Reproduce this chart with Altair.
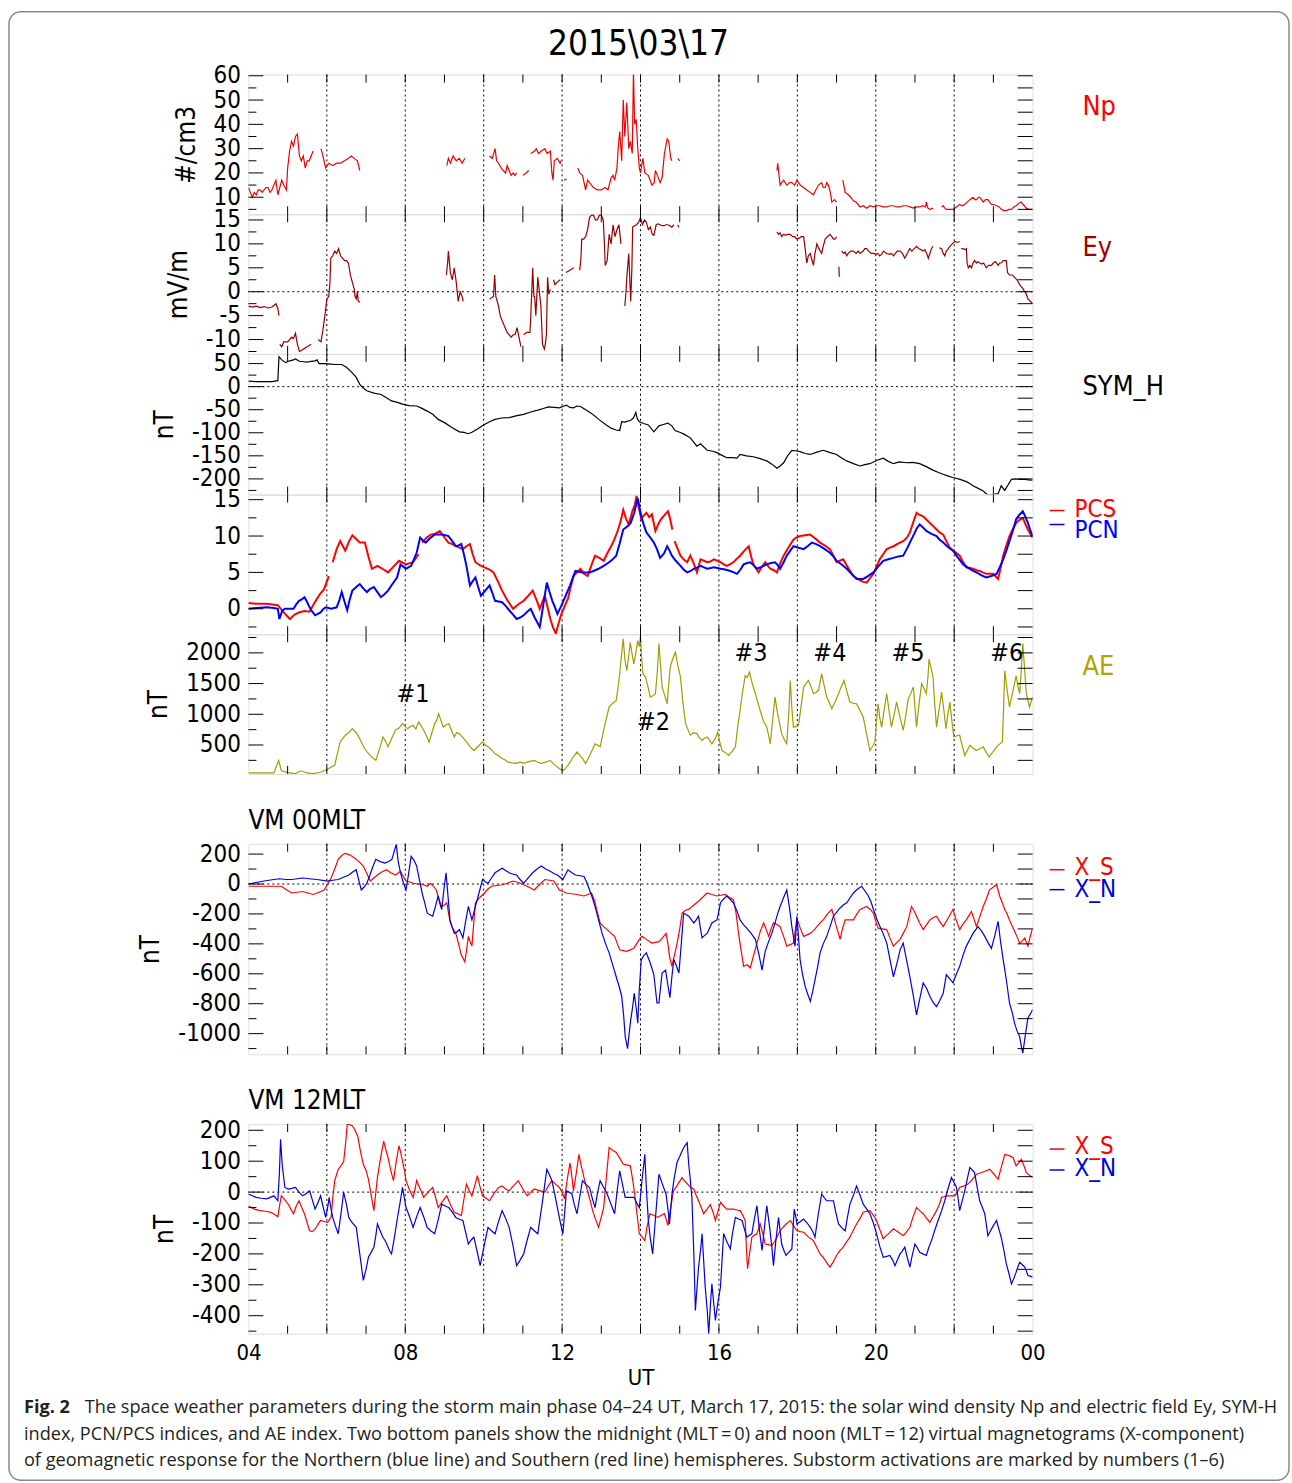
import altair as alt
import pandas as pd

FONT = "Liberation Sans Narrow, Arial Narrow, DejaVu Sans Condensed, sans-serif"
CAP_FONT = "Open Sans, Liberation Sans, sans-serif"
W = 786

# ---------------- data (hour UT, value); None marks a data gap ----------------
NP = [(4.0,14),(4.05,12),(4.1,10),(4.15,12),(4.2,11),(4.25,13),(4.3,13),(4.35,12),(4.4,13),(4.45,14),(4.5,14),(4.55,12),
      (4.6,13),(4.65,15),(4.7,17),(4.75,11),(4.8,14),(4.85,17),(4.9,15),(4.97,13),(5.0,22),(5.05,29),(5.1,33),(5.15,31),
      (5.2,35),(5.25,36),(5.3,27),(5.35,25),(5.4,27),(5.45,22),(5.5,25),(5.55,25),(5.6,27),(5.65,29),
      None,
      (5.85,30),(5.9,27),(5.97,22),(6.05,24),(6.15,23),(6.25,24),(6.35,24),(6.45,25),(6.55,26),(6.62,27),(6.7,26),(6.78,25),(6.84,21),
      None,
      (9.06,23),(9.1,26),(9.15,24),(9.22,27),(9.3,25),(9.38,26),(9.45,24),(9.52,26),
      None,
      (10.15,27),(10.22,26),(10.29,30),(10.33,25),(10.38,24),(10.45,22),(10.5,21),(10.56,20),(10.6,23),(10.65,21),(10.7,19),
      (10.75,20),(10.8,19),(10.84,20),
      None,
      (11.0,19),(11.08,20),(11.15,21),
      None,
      (11.2,28),(11.3,29),(11.34,30),(11.4,28),(11.47,29),(11.56,30),(11.62,28),(11.7,29),(11.74,20),(11.77,17),(11.8,25),
      (11.88,26),(11.95,24),(11.97,25),
      None,
      (12.05,17),(12.12,17.5),
      None,
      (12.4,22),(12.45,20),(12.52,19),(12.6,13),(12.65,17),(12.7,16),(12.8,14),(12.9,13),(13.0,13),(13.1,14),(13.17,13),
      (13.25,18),(13.3,19),(13.34,17),(13.4,22),(13.43,30),(13.47,37),(13.5,30),(13.52,25),(13.56,50),(13.6,35),(13.65,49),
      (13.68,38),(13.7,30),(13.74,33),(13.79,28),(13.82,62),(13.85,40),(13.89,42),(13.93,30),(13.97,22),(14.0,20),(14.06,26),
      (14.11,20),(14.2,19),(14.29,15),(14.35,16),(14.38,21),(14.43,19),(14.5,16),(14.55,18),(14.61,28),(14.68,34),(14.72,33),
      (14.77,26),(14.8,25),
      None,
      (14.95,26),(15.0,25),
      None,
      (17.48,21),(17.5,24),(17.56,15),(17.6,16),(17.65,17),(17.73,15),(17.8,16),(17.86,16),(17.93,15),(17.99,17),(18.07,15),
      (18.16,14),(18.24,13),(18.33,12),(18.41,11),(18.47,13),(18.54,15),(18.62,16),(18.66,14),(18.71,14),(18.75,16),(18.79,15),
      (18.84,12),(18.88,8),(18.95,9),(19.0,8),
      None,
      (19.16,17),(19.22,12),(19.3,11),(19.36,10),(19.43,8.5),(19.5,8),(19.6,6),(19.68,6.5),(19.77,5.5),(19.85,6.5),(19.94,6),
      (20.02,6.5),(20.1,6.5),(20.19,6),(20.28,6),(20.36,6.5),(20.45,6.5),(20.53,6),(20.62,6),(20.7,6.5),(20.79,6.5),(20.87,6),
      (20.96,5.5),(21.04,6),(21.12,6),(21.2,6.5),(21.27,6),(21.29,8),(21.33,5.5),(21.38,5),(21.46,5.5),
      None,
      (21.68,6),(21.72,6.5),(21.76,5.5),(21.8,5),(21.89,5),(21.97,5),(22.06,6),(22.14,7),(22.2,6.5),(22.27,7),(22.33,8),
      (22.4,9),(22.48,10),(22.53,9),(22.57,9),(22.62,10),(22.65,10),(22.7,9),(22.74,8),(22.8,9),(22.86,9),(22.9,8),(22.95,7),
      (23.0,7),(23.08,6.5),(23.15,6),(23.2,5),(23.27,4.5),(23.33,4.5),(23.4,5),(23.46,5),(23.52,6),(23.58,6.5),(23.65,7.5),
      (23.71,8),(23.76,7),(23.84,5.5),(23.9,5),(24.0,5)]

EY = [(4.0,-3),(4.1,-3.2),(4.2,-3),(4.3,-3.3),(4.4,-3.1),(4.5,-3.4),(4.6,-3.2),(4.7,-2.5),(4.75,-3.5),(4.78,-5),
      None,
      (4.8,-11),(4.85,-11.5),(4.9,-10.5),(5.0,-10.5),(5.05,-10),(5.1,-9.5),(5.15,-9.8),(5.2,-8.7),(5.25,-11),(5.3,-12.5),
      (5.35,-12.3),(5.4,-12),(5.5,-11.5),(5.6,-11),
      None,
      (5.78,-10),(5.85,-10.5),(5.9,-8),(5.95,-5),(6.0,-1.5),(6.05,-1),(6.08,2),(6.1,7),(6.15,7.5),(6.2,8.5),(6.25,8),(6.3,9),
      (6.35,7.5),(6.4,7),(6.45,6.5),(6.5,6.5),(6.55,6),(6.6,3.5),(6.65,2),(6.7,0.5),(6.72,-1),(6.75,-1.5),(6.78,0),(6.8,-2),(6.84,-2.2),
      None,
      (9.05,3.5),(9.08,6),(9.1,8.5),(9.15,4),(9.2,2.5),(9.25,5),(9.3,2),(9.35,-2),(9.4,0),(9.45,-1),(9.48,-2),
      None,
      (10.15,-1.5),(10.25,-1),(10.28,3.5),(10.31,-1),(10.38,-3),(10.42,-5),(10.47,-6),(10.52,-7),(10.6,-8.5),(10.65,-9),
      (10.7,-9.5),(10.75,-9),(10.8,-9),(10.85,-7.5),(10.9,-9.5),(10.95,-11.5),
      None,
      (11.02,-9),(11.1,-8.5),(11.18,-8.5),(11.2,-5.5),(11.25,5),(11.28,-1),(11.3,-1),(11.33,-5),(11.38,3),(11.42,0),(11.46,-3),
      (11.5,-11),(11.55,-12),(11.58,-10.5),(11.6,-9),(11.63,3),(11.66,-0.5),(11.7,0.5),
      None,
      (11.78,2.5),(11.82,1.5),(11.88,2),(11.95,2.5),
      None,
      (12.1,4),(12.2,4.5),(12.3,5),
      None,
      (12.45,4.5),(12.48,7),(12.5,11),(12.55,11),(12.6,11.5),(12.65,13),(12.7,15.5),(12.75,16),(12.8,16),(12.85,15),(12.9,15),
      (12.95,16),(13.0,16),(13.05,15),(13.08,10),(13.1,5.5),(13.15,6.5),(13.2,12),(13.25,10),(13.3,14),(13.35,11.5),(13.4,13),
      (13.45,14),(13.5,10),
      None,
      (13.6,-3),(13.63,0),(13.65,3),(13.7,8),(13.75,-2),(13.78,5),(13.8,13.5),(13.85,13.8),(13.9,14),(13.95,14.5),(14.0,15.5),
      (14.05,14),(14.1,15),(14.15,14.5),(14.2,13),(14.25,13.5),(14.3,12),(14.34,11.8),(14.4,14),(14.45,14.2),(14.5,14),
      (14.55,13.8),(14.6,13.8),(14.65,14),(14.7,14),(14.75,13.8),(14.8,13.5),(14.85,14),
      None,
      (14.95,14),(14.98,13.5),
      None,
      (17.48,12.5),(17.52,12),(17.56,12.3),(17.6,11.5),(17.65,12),(17.7,11.8),(17.75,12),(17.82,12),(17.88,11.5),(17.93,11.5),
      (17.99,11),(18.05,11.2),(18.1,11.5),(18.16,11.5),(18.2,9),(18.24,6),(18.28,7.5),(18.33,8),(18.36,7),(18.41,5.5),(18.45,8),
      (18.5,10),(18.55,9),(18.62,8),(18.66,9.5),(18.71,11),(18.77,11.5),(18.83,12),(18.88,11.5),(18.92,11),(18.96,11),(19.0,11.5),
      None,
      (19.06,5.2),(19.07,3.1),
      None,
      (19.13,8.5),(19.18,8),(19.22,8.3),(19.26,7.5),(19.3,8),(19.36,8.5),(19.43,8.5),(19.5,8),(19.55,8.5),(19.6,8),(19.68,8.5),
      (19.72,9),(19.77,9),(19.82,8.5),(19.88,8),(19.94,8),(20.0,7.8),(20.05,8),(20.1,7.5),(20.15,7.8),(20.2,8.5),(20.28,8),
      (20.35,7.8),(20.4,8),(20.45,7.5),(20.5,8),(20.55,8.5),(20.62,8.5),(20.68,8),(20.74,7),(20.8,8),(20.87,9),(20.92,8.5),
      (20.98,9),(21.04,9.5),(21.1,9),(21.15,8.8),(21.2,8.5),(21.25,8.8),(21.3,8),(21.34,7),(21.38,8),(21.42,9),(21.46,9.5),
      None,
      (21.62,9.2),(21.68,9),(21.72,8),(21.76,7.5),(21.8,8.5),(21.85,9),(21.89,9.5),(21.95,10),(22.02,10.5),(22.08,10.3),(22.14,10.5),
      None,
      (22.18,9),(22.22,9),(22.28,8.8),(22.31,9),(22.33,6),(22.36,5),(22.4,5.5),(22.44,5),(22.48,6),(22.52,6.5),(22.57,6),
      (22.6,6.3),(22.65,6),(22.7,5.8),(22.75,6),(22.82,5),(22.88,5.5),(22.95,5.5),(23.0,6),(23.05,6.3),(23.08,6),(23.12,5.5),
      (23.16,6),(23.2,6),(23.25,6.5),(23.3,6.5),(23.33,6.5),(23.36,4),(23.41,3.5),(23.48,3.5),(23.54,3),(23.6,2.5),(23.67,1.5),
      (23.74,0.8),(23.8,0),(23.84,-0.5),(23.88,-1.5),(23.94,-2),(24.0,-2.5)]

SYMH = [(4.0,12),(4.2,11),(4.4,11),(4.6,11),(4.75,13),(4.78,65),(4.85,58),(4.95,52),(5.05,56),(5.15,58),(5.2,60),(5.3,55),
        (5.4,54),(5.5,53),(5.6,55),(5.7,56),(5.75,58),(5.8,50),(5.95,50),(6.1,49),(6.2,48),(6.38,48),(6.5,42),(6.65,30),
        (6.75,20),(6.84,5),(6.93,-3),(7.02,-9),(7.2,-14),(7.38,-17),(7.5,-23),(7.65,-31),(7.8,-34),(7.93,-38),(8.1,-41),
        (8.29,-42),(8.4,-46),(8.56,-53),(8.7,-60),(8.84,-71),(9.0,-78),(9.2,-89),(9.38,-98),(9.5,-99),(9.61,-102),(9.7,-99),
        (9.84,-92),(10.02,-82),(10.15,-76),(10.29,-71),(10.45,-68),(10.65,-67),(10.85,-63),(11.02,-60),(11.2,-55),(11.38,-51),
        (11.5,-48),(11.65,-44),(11.8,-45),(11.93,-46),(12.05,-42),(12.11,-40),(12.2,-45),(12.29,-46),(12.38,-42),(12.47,-43),
        (12.56,-48),(12.65,-53),(12.75,-58),(12.84,-64),(12.95,-72),(13.11,-82),(13.25,-90),(13.38,-94),(13.47,-95),(13.52,-76),
        (13.6,-77),(13.75,-73),(13.82,-68),(13.88,-56),(13.92,-70),(13.97,-76),(14.08,-80),(14.2,-83),(14.34,-98),(14.47,-85),
        (14.58,-82),(14.7,-79),(14.8,-85),(14.88,-95),(15.0,-99),(15.11,-103),(15.27,-111),(15.44,-129),(15.53,-124),(15.7,-138),
        (15.85,-140),(15.95,-143),(16.08,-149),(16.2,-154),(16.35,-154),(16.46,-155),(16.54,-147),(16.7,-150),(16.88,-152),
        (17.05,-156),(17.22,-161),(17.35,-168),(17.48,-177),(17.56,-172),(17.65,-165),(17.75,-150),(17.86,-138),(17.95,-139),
        (18.07,-141),(18.2,-145),(18.33,-147),(18.5,-142),(18.66,-138),(18.8,-142),(19.0,-147),(19.12,-154),(19.26,-161),
        (19.43,-167),(19.6,-172),(19.72,-169),(19.85,-167),(20.02,-160),(20.19,-155),(20.32,-162),(20.45,-167),(20.6,-163),
        (20.79,-165),(20.95,-164),(21.12,-167),(21.3,-174),(21.46,-181),(21.6,-186),(21.72,-190),(21.85,-194),(21.97,-197),
        (22.15,-201),(22.31,-206),(22.4,-210),(22.48,-215),(22.6,-220),(22.74,-226),(22.8,-231),(22.86,-235),(23.0,-234),
        (23.12,-232),(23.2,-215),(23.29,-225),(23.38,-212),(23.46,-201),(23.55,-200),(23.67,-201),(23.8,-201),(23.9,-202),(24.0,-203)]

PCS = [(4.0,0.8),(4.2,0.7),(4.47,0.7),(4.75,0.5),(4.9,-0.5),(5.06,-1.4),(5.18,-0.8),(5.29,-0.5),(5.42,-0.3),(5.56,-0.4),
       (5.65,0.5),(5.75,1.4),(5.85,2.2),(5.93,2.7),(6.05,4.5),
       None,
       (6.15,6.4),(6.25,8.2),(6.34,9.3),(6.47,8),(6.56,9.2),(6.65,10.1),(6.75,9.6),(6.84,9.1),(6.97,9.1),(7.06,7.2),(7.15,5.5),
       (7.29,5.9),(7.42,5.5),(7.56,5),(7.7,5.8),(7.84,6.6),(8.02,6.1),(8.2,6.4),(8.34,7.5),
       None,
       (8.43,9.1),(8.55,9.8),(8.65,10.2),(8.75,10.3),(8.88,10.7),(9.0,9.8),(9.1,9.1),(9.2,8.9),(9.29,8.6),(9.38,8.4),(9.47,8.2),
       (9.56,8.6),(9.65,8.9),(9.72,7.5),(9.79,6.4),(9.9,6.0),(10.02,5.7),(10.15,5.4),(10.25,5),(10.36,3.8),(10.47,2.5),(10.6,1.2),
       (10.75,0),(10.88,0.6),(11.02,1.1),(11.14,1.8),(11.25,2.5),(11.35,1.2),(11.43,0),(11.5,1.0),(11.56,1.8),(11.63,0.2),
       (11.7,-1.4),(11.77,-2.6),(11.84,-3.4),(11.9,-2.2),(11.97,-0.9),(12.06,0.3),(12.15,1.4),(12.22,3),(12.29,4.5),(12.38,5),
       (12.47,5.5),(12.56,4.8),(12.65,4.5),(12.75,6),(12.84,7.3),(12.95,7),(13.06,6.6),(13.15,7.6),(13.25,8.6),(13.34,9.6),
       (13.43,10.9),(13.5,12.2),(13.56,13.6),(13.63,12.4),(13.7,11.6),(13.79,13.4),(13.85,14.2),(13.9,15.5),(13.96,13.8),
       (14.02,12.3),(14.08,12.8),(14.15,13.2),(14.22,12.6),(14.29,13),(14.38,10.7),(14.45,11.6),(14.52,12.3),(14.6,12.8),
       (14.7,13.4),(14.75,12.5),(14.81,10.9),
       None,
       (14.87,9.3),(14.95,8.2),(15.02,7.3),(15.1,6.8),(15.19,6.4),(15.27,7.3),(15.36,6.2),(15.44,5),(15.53,6.8),(15.62,6.6),
       (15.7,6.4),(15.78,6.5),(15.87,6.8),(15.96,6.6),(16.04,6.4),(16.12,6.1),(16.2,5.9),(16.28,6.1),(16.37,6.4),(16.46,6.9),
       (16.54,7.3),(16.65,8),(16.76,8.6),(16.82,7.2),(16.88,6.1),(17.01,5),(17.1,5.8),(17.18,6.4),(17.25,5.9),(17.31,5.5),
       (17.4,5.3),(17.48,5),(17.56,6.2),(17.65,7.3),(17.78,8.5),(17.9,9.5),(17.98,9.8),(18.07,10),(18.2,10.1),(18.33,10.2),
       (18.45,9.7),(18.58,9.1),(18.7,8.7),(18.83,8.2),(18.92,7.3),(19.0,6.4),(19.08,6.6),(19.17,6.8),(19.3,5.6),(19.43,4.5),
       (19.52,4.2),(19.6,3.9),(19.68,3.7),(19.77,3.6),(19.85,4.2),(19.94,4.8),(20.02,5.8),(20.1,6.8),(20.19,7.5),(20.28,8.2),
       (20.36,8.4),(20.45,8.6),(20.58,9),(20.7,9.3),(20.8,9.8),(20.87,10.5),(20.95,11.8),(21.04,13.2),(21.12,12.9),(21.21,12.7),
       (21.3,12.2),(21.38,11.8),(21.46,11.4),(21.55,10.9),(21.63,10.5),(21.72,10.2),(21.8,9.3),(21.89,8.4),(22.0,7.9),(22.14,7.3),
       (22.22,6.5),(22.31,5.7),(22.4,5.6),(22.48,5.5),(22.57,5.3),(22.65,5.2),(22.73,5.0),(22.82,4.8),(22.9,4.8),(22.99,4.8),
       (23.05,4.5),(23.12,4.1),(23.18,5.5),(23.25,7.3),(23.33,8.7),(23.41,10),(23.5,11),(23.58,11.8),(23.66,12.2),(23.75,12.5),
       (23.82,11.6),(23.88,10.9),(23.94,10.3),(24.0,9.8)]

PCN = [(4.0,0),(4.2,0.1),(4.47,0.2),(4.65,0.1),(4.75,0),(4.79,-1.4),(4.86,-0.3),(4.93,0),(5.04,0),(5.15,0),(5.22,0.6),
       (5.29,1.1),(5.36,1.3),(5.43,1.6),(5.5,0.9),(5.56,0.2),(5.63,-0.4),(5.7,-0.9),(5.77,-0.7),(5.84,-0.5),(5.9,-0.1),
       (5.97,0.2),(6.04,0.1),(6.11,0),(6.18,0.1),(6.25,0.2),(6.32,1.2),(6.38,2.3),(6.45,1),(6.52,-0.2),(6.58,1.2),(6.65,2.5),
       (6.75,3),(6.84,3.4),(6.93,2.8),(7.02,2.3),(7.1,2.7),(7.2,3),(7.29,2.3),(7.38,1.6),(7.47,2),(7.56,2.5),(7.66,3.3),
       (7.79,4.3),(7.88,6.1),(7.95,5.8),(8.02,5.5),(8.08,5.7),(8.15,5.9),(8.22,6.8),(8.29,7.7),(8.38,9.8),(8.45,9.4),(8.52,9.1),
       (8.63,9.7),(8.75,10.2),(8.84,10.2),(8.93,10.2),(9.02,10.1),(9.1,10),(9.2,9.3),(9.29,8.6),(9.36,8.7),(9.43,8.9),(9.5,7.4),
       (9.56,5.9),(9.65,3.2),(9.72,3.8),(9.79,4.3),(9.86,3),(9.93,1.8),(10.04,2.5),(10.15,3.2),(10.22,2.2),(10.29,1.1),
       (10.38,1),(10.47,0.9),(10.56,0.4),(10.65,-0.2),(10.75,-0.8),(10.84,-1.4),(10.93,-1.2),(11.02,-0.9),(11.11,-0.4),
       (11.2,0),(11.3,-1.2),(11.43,-2.5),(11.52,0.5),(11.61,3.6),(11.68,2.3),(11.75,1.1),(11.82,0.2),(11.88,-0.7),(11.97,0.3),
       (12.06,1.4),(12.13,2.3),(12.2,3.2),(12.27,4.2),(12.34,5.2),(12.43,5.1),(12.52,5),(12.61,5),(12.7,5),(12.8,5.2),
       (12.93,5.5),(13.06,5.9),(13.2,6.4),(13.29,6.8),(13.38,7.3),(13.47,9),(13.56,10.9),(13.66,11.3),(13.75,11.8),(13.84,13.2),
       (13.93,15.2),(14.02,12.7),(14.08,11.6),(14.15,10.5),(14.25,9.8),(14.34,9.1),(14.42,8.2),(14.5,7),(14.6,7.6),(14.68,8.6),
       (14.74,8),(14.8,7.3),(14.9,6.6),(15.02,5.9),(15.1,5.4),(15.19,5),(15.28,5.2),(15.36,5.5),(15.45,5.7),(15.53,5.9),
       (15.62,5.7),(15.7,5.5),(15.79,5.6),(15.87,5.7),(15.96,5.6),(16.04,5.5),(16.16,5.4),(16.29,5.2),(16.38,5),(16.46,4.8),
       (16.55,5.4),(16.63,6.1),(16.72,6.3),(16.8,6.4),(16.88,6),(16.97,5.5),(17.1,5.8),(17.22,6.1),(17.33,6.3),(17.43,6.4),
       (17.5,6),(17.56,5.5),(17.65,6.4),(17.73,7.3),(17.82,8),(17.9,8.6),(18.03,8.4),(18.16,8.2),(18.26,8.6),(18.37,9.1),
       (18.48,8.9),(18.58,8.6),(18.7,8.2),(18.83,7.7),(18.92,7.2),(19.0,6.6),(19.13,6.1),(19.26,5.5),(19.38,4.8),(19.51,4.1),
       (19.6,4.1),(19.68,4.1),(19.8,4.5),(19.94,5),(20.06,5.8),(20.19,6.6),(20.32,6.8),(20.45,7),(20.58,7.2),(20.7,7.3),
       (20.79,8.2),(20.87,9.1),(20.98,10.3),(21.04,11),(21.12,11.6),(21.2,11.2),(21.29,10.7),(21.42,10.3),(21.55,10),
       (21.63,9.5),(21.72,9.1),(21.84,8.5),(21.97,8),(22.1,7),(22.23,6.1),(22.31,5.8),(22.4,5.5),(22.48,5.2),(22.57,5),
       (22.7,4.6),(22.82,4.3),(22.95,4.5),(23.08,4.8),(23.16,5.7),(23.25,6.8),(23.33,8),(23.41,9.3),(23.5,10.8),(23.58,12.3),
       (23.66,12.9),(23.75,13.4),(23.82,12.6),(23.88,11.8),(23.94,10.8),(24.0,10)]

AE = [(4.0,45),(4.3,45),(4.65,45),(4.77,250),(4.84,80),(5.0,50),(5.2,35),(5.34,80),(5.5,45),(5.65,35),(5.85,60),(6.0,100),
      (6.2,170),(6.34,550),(6.47,660),(6.56,700),(6.65,765),(6.75,700),(6.84,600),(6.93,480),(7.02,390),(7.15,300),(7.25,250),
      (7.35,450),(7.43,630),(7.5,560),(7.56,470),(7.65,600),(7.75,740),(7.85,780),(7.93,850),(8.0,800),(8.06,765),(8.13,800),
      (8.2,820),(8.27,760),(8.34,875),(8.4,820),(8.47,740),(8.54,650),(8.61,550),(8.68,700),(8.75,850),(8.8,900),(8.85,1010),
      (8.91,900),(8.97,790),(9.04,830),(9.11,850),(9.18,740),(9.25,630),(9.31,700),(9.38,685),(9.47,620),(9.56,550),(9.66,470),
      (9.75,410),(9.86,480),(9.97,550),(10.04,500),(10.11,470),(10.2,420),(10.29,360),(10.38,320),(10.47,280),(10.54,260),
      (10.61,225),(10.72,210),(10.84,200),(10.93,220),(11.02,200),(11.15,230),(11.29,250),(11.38,220),(11.47,200),(11.58,220),
      (11.7,250),(11.8,180),(11.88,140),(11.95,110),(12.02,80),(12.09,120),(12.15,170),(12.26,280),(12.38,385),(12.5,300),
      (12.6,200),(12.72,350),(12.84,520),(12.9,500),(12.97,470),(13.08,800),(13.2,1120),(13.29,1180),(13.38,1225),(13.43,1450),
      (13.47,1660),(13.52,2000),(13.56,2230),(13.6,1900),(13.65,1710),(13.7,1950),(13.74,2170),(13.78,2000),(13.83,1820),
      (13.88,2000),(13.93,2200),(13.97,2100),(14.0,2280),(14.03,1900),(14.06,1660),(14.13,1605),(14.19,1450),(14.25,1280),
      (14.31,1300),(14.38,1335),(14.43,1700),(14.47,2150),(14.51,1800),(14.55,1445),(14.62,1300),(14.68,1170),(14.72,1500),
      (14.76,1770),(14.82,1900),(14.89,2010),(14.95,1800),(15.02,1605),(15.08,1200),(15.15,850),(15.21,750),(15.27,660),
      (15.35,700),(15.44,685),(15.5,620),(15.57,575),(15.63,610),(15.7,630),(15.76,580),(15.82,520),(15.9,600),(15.97,710),
      (16.02,550),(16.08,410),(16.16,380),(16.25,330),(16.34,400),(16.42,470),(16.48,800),(16.54,1065),(16.6,1350),(16.67,1630),
      (16.72,1600),(16.78,1685),(16.85,1500),(16.93,1335),(16.99,1200),(17.05,1065),(17.13,900),(17.22,790),(17.27,650),
      (17.31,520),(17.37,900),(17.43,1280),(17.5,1000),(17.6,685),(17.66,600),(17.73,520),(17.78,1000),(17.82,1550),(17.86,1100),
      (17.9,790),(17.96,800),(18.03,820),(18.1,1150),(18.16,1445),(18.22,1500),(18.28,1550),(18.35,1450),(18.41,1335),
      (18.48,1360),(18.54,1390),(18.58,1520),(18.62,1660),(18.68,1480),(18.75,1280),(18.81,1200),(18.88,1090),(18.96,1200),
      (19.05,1335),(19.12,1450),(19.19,1550),(19.26,1380),(19.34,1200),(19.42,1180),(19.51,1170),(19.6,1060),(19.68,955),
      (19.76,700),(19.85,410),(19.92,480),(19.98,550),(20.02,900),(20.06,1170),(20.1,950),(20.15,790),(20.22,1100),(20.28,1335),
      (20.34,1050),(20.4,790),(20.47,1000),(20.53,1200),(20.62,950),(20.7,740),(20.77,1000),(20.83,1255),(20.9,1350),
      (20.96,1445),(21.0,1100),(21.04,790),(21.1,1150),(21.17,1500),(21.23,1420),(21.29,1335),(21.33,1600),(21.36,1900),
      (21.41,1750),(21.46,1605),(21.5,1200),(21.55,790),(21.62,1100),(21.68,1360),(21.74,1050),(21.79,765),(21.84,1000),
      (21.89,1200),(21.94,900),(21.99,630),(22.07,650),(22.14,660),(22.2,500),(22.27,330),(22.34,420),(22.4,495),(22.48,450),
      (22.57,410),(22.65,440),(22.74,470),(22.82,380),(22.89,305),(22.98,380),(23.08,470),(23.15,510),(23.23,550),(23.26,1100),
      (23.29,1710),(23.35,1400),(23.41,1120),(23.5,1380),(23.58,1630),(23.62,1480),(23.67,1335),(23.71,1700),(23.75,2150),
      (23.8,1700),(23.84,1335),(23.88,1230),(23.92,1120),(23.96,1200),(24.0,1280)]

VM00_S = [(4.0,-15),(4.3,-15),(4.65,-15),(4.84,-15),(4.98,-40),(5.11,-60),(5.25,-55),(5.38,-50),(5.52,-60),(5.65,-70),
          (5.8,-55),(5.93,-40),(6.02,0),(6.11,40),(6.2,100),(6.29,165),(6.38,190),(6.47,205),(6.58,195),(6.7,175),(6.82,150),
          (6.93,120),(7.02,70),(7.11,20),(7.2,40),(7.29,60),(7.4,80),(7.52,95),(7.63,75),(7.75,60),(7.88,85),(7.95,50),(8.02,20),
          (8.1,15),(8.2,5),(8.33,0),(8.47,-5),(8.56,-15),(8.65,5),(8.72,-15),(8.79,-40),(8.86,-100),(8.93,-150),(9.0,-140),
          (9.06,-125),(9.1,-190),(9.15,-260),(9.22,-300),(9.29,-330),(9.36,-400),(9.43,-475),(9.48,-500),(9.52,-520),
          (9.56,-450),(9.61,-350),(9.66,-390),(9.7,-415),(9.75,-250),(9.79,-125),(9.9,-90),(10.02,-60),(10.1,-35),(10.2,-15),
          (10.33,-10),(10.47,-5),(10.6,5),(10.75,20),(10.88,10),(11.02,-5),(11.15,-20),(11.29,-40),(11.42,-5),(11.56,30),
          (11.68,25),(11.79,20),(11.86,-10),(11.93,-40),(12.02,-50),(12.11,-60),(12.25,-65),(12.38,-70),(12.47,-75),(12.56,-80),
          (12.66,-70),(12.75,-60),(12.8,-90),(12.84,-125),(12.9,-190),(12.97,-260),(13.06,-285),(13.15,-305),(13.25,-330),
          (13.34,-350),(13.41,-400),(13.47,-440),(13.56,-445),(13.65,-450),(13.74,-440),(13.83,-430),(13.9,-400),(13.97,-370),
          (14.04,-350),(14.1,-360),(14.2,-380),(14.29,-395),(14.38,-390),(14.47,-385),(14.56,-360),(14.65,-330),(14.7,-400),
          (14.74,-485),(14.8,-550),(14.86,-480),(14.92,-415),(15.0,-300),(15.06,-195),(15.15,-175),(15.23,-170),(15.36,-140),
          (15.48,-115),(15.6,-85),(15.7,-60),(15.82,-70),(15.95,-80),(16.05,-75),(16.16,-70),(16.27,-90),(16.37,-105),(16.44,-200),
          (16.5,-330),(16.57,-450),(16.63,-550),(16.72,-540),(16.8,-560),(16.88,-480),(16.97,-395),(17.05,-320),(17.14,-260),
          (17.2,-300),(17.27,-350),(17.33,-300),(17.39,-260),(17.48,-270),(17.56,-285),(17.65,-350),(17.73,-415),(17.82,-405),
          (17.9,-395),(17.99,-230),(18.08,-300),(18.16,-350),(18.25,-340),(18.33,-330),(18.42,-310),(18.5,-285),(18.58,-260),
          (18.66,-240),(18.77,-200),(18.88,-170),(18.98,-270),(19.09,-370),(19.15,-300),(19.22,-240),(19.33,-240),(19.43,-240),
          (19.52,-200),(19.6,-170),(19.68,-160),(19.77,-150),(19.86,-170),(19.94,-195),(20.0,-250),(20.06,-295),(20.17,-300),
          (20.28,-305),(20.36,-360),(20.45,-415),(20.54,-390),(20.62,-370),(20.7,-330),(20.79,-285),(20.85,-220),(20.91,-150),
          (20.98,-180),(21.04,-215),(21.12,-260),(21.21,-305),(21.3,-270),(21.38,-240),(21.46,-225),(21.55,-215),(21.63,-250),
          (21.72,-285),(21.84,-230),(21.97,-170),(22.05,-240),(22.14,-305),(22.22,-270),(22.31,-240),(22.38,-210),(22.44,-185),
          (22.5,-230),(22.57,-285),(22.65,-220),(22.74,-150),(22.82,-100),(22.9,-40),(23.0,-20),(23.08,-5),(23.12,-40),(23.16,-80),
          (23.22,-120),(23.29,-170),(23.35,-200),(23.41,-240),(23.48,-280),(23.54,-315),(23.6,-350),(23.67,-395),(23.74,-380),
          (23.8,-360),(23.84,-390),(23.88,-415),(23.94,-350),(24.0,-295)]

VM00_N = [(4.0,0),(4.2,10),(4.4,20),(4.65,30),(4.79,35),(4.95,30),(5.11,30),(5.25,35),(5.38,40),(5.55,35),(5.75,30),
          (6.02,20),(6.15,25),(6.29,30),(6.42,45),(6.56,60),(6.66,80),(6.75,95),(6.82,20),(6.88,-40),(6.95,-20),(7.02,5),
          (7.1,60),(7.18,120),(7.25,165),(7.36,150),(7.48,140),(7.58,150),(7.66,165),(7.72,220),(7.77,265),(7.82,150),(7.88,75),
          (7.95,10),(8.02,-40),(8.08,60),(8.15,185),(8.22,160),(8.29,120),(8.36,30),(8.43,-60),(8.5,-130),(8.56,-195),(8.63,-205),
          (8.7,-215),(8.77,-150),(8.84,-80),(8.88,-130),(8.93,-170),(8.98,-50),(9.04,75),(9.09,-80),(9.14,-240),(9.2,-290),
          (9.25,-330),(9.32,-320),(9.38,-305),(9.43,-335),(9.47,-360),(9.54,-250),(9.61,-150),(9.66,-200),(9.7,-240),(9.75,-190),
          (9.79,-150),(9.88,-60),(9.97,30),(10.04,15),(10.11,5),(10.2,40),(10.29,75),(10.38,90),(10.47,105),(10.56,90),(10.65,75),
          (10.75,65),(10.84,60),(10.93,30),(11.02,5),(11.13,40),(11.25,75),(11.36,100),(11.47,120),(11.58,100),(11.7,85),
          (11.79,70),(11.88,60),(11.95,45),(12.02,30),(12.08,60),(12.15,95),(12.25,75),(12.34,60),(12.45,55),(12.56,50),
          (12.63,10),(12.7,-40),(12.77,-90),(12.84,-150),(12.93,-240),(13.02,-330),(13.11,-400),(13.2,-460),(13.29,-540),
          (13.38,-620),(13.45,-680),(13.52,-750),(13.57,-880),(13.61,-1020),(13.67,-1100),(13.71,-1000),(13.75,-910),(13.8,-820),
          (13.84,-730),(13.89,-830),(13.93,-930),(13.97,-700),(14.02,-505),(14.08,-480),(14.15,-460),(14.25,-530),(14.34,-605),
          (14.42,-795),(14.47,-795),(14.55,-595),(14.64,-575),(14.7,-680),(14.75,-760),(14.8,-620),(14.85,-505),(14.92,-550),
          (14.98,-595),(15.04,-400),(15.1,-195),(15.17,-205),(15.23,-215),(15.3,-240),(15.36,-260),(15.42,-240),(15.48,-215),
          (15.53,-300),(15.57,-360),(15.63,-345),(15.7,-330),(15.76,-295),(15.82,-260),(15.88,-250),(15.95,-240),(16.0,-180),
          (16.04,-125),(16.12,-100),(16.2,-80),(16.28,-100),(16.37,-125),(16.46,-180),(16.54,-240),(16.62,-270),(16.71,-295),
          (16.82,-330),(16.93,-370),(17.02,-470),(17.1,-575),(17.14,-510),(17.18,-450),(17.26,-390),(17.35,-330),(17.42,-270),
          (17.48,-215),(17.52,-180),(17.56,-150),(17.65,-90),(17.73,-40),(17.8,-160),(17.86,-285),(17.9,-350),(17.94,-415),
          (17.97,-300),(17.99,-215),(18.03,-360),(18.07,-505),(18.13,-600),(18.2,-685),(18.27,-740),(18.33,-785),(18.39,-720),
          (18.45,-640),(18.52,-550),(18.58,-460),(18.66,-400),(18.75,-350),(18.84,-280),(18.92,-215),(19.0,-190),(19.09,-160),
          (19.17,-140),(19.26,-125),(19.35,-90),(19.43,-60),(19.53,-35),(19.64,-15),(19.72,-45),(19.81,-80),(19.88,-120),
          (19.94,-170),(20.02,-230),(20.11,-285),(20.2,-340),(20.28,-395),(20.36,-500),(20.45,-620),(20.54,-530),(20.62,-440),
          (20.7,-395),(20.78,-500),(20.87,-620),(20.96,-750),(21.04,-875),(21.12,-770),(21.21,-660),(21.3,-700),(21.38,-750),
          (21.46,-790),(21.55,-820),(21.63,-780),(21.72,-730),(21.8,-605),(21.88,-630),(21.97,-660),(22.06,-600),(22.14,-550),
          (22.22,-480),(22.31,-415),(22.4,-370),(22.48,-330),(22.55,-305),(22.61,-285),(22.7,-315),(22.78,-350),(22.86,-390),
          (22.95,-430),(23.04,-340),(23.12,-250),(23.18,-380),(23.25,-505),(23.33,-640),(23.41,-795),(23.48,-860),(23.54,-930),
          (23.6,-980),(23.67,-1020),(23.71,-1080),(23.75,-1130),(23.82,-1000),(23.88,-895),(23.94,-870),(24.0,-840)]

VM12_S = [(4.0,-45),(4.15,-55),(4.29,-60),(4.43,-62),(4.56,-65),(4.66,-72),(4.75,-80),(4.8,-40),(4.84,-12),(4.93,-25),
          (5.02,-40),(5.08,-55),(5.15,-70),(5.22,-45),(5.29,-28),(5.36,-50),(5.43,-70),(5.5,-100),(5.56,-125),(5.63,-128),
          (5.7,-120),(5.77,-105),(5.84,-92),(5.93,-95),(6.02,-98),(6.11,-80),(6.15,-20),(6.2,37),(6.29,74),(6.36,85),(6.43,100),
          (6.48,160),(6.52,220),(6.58,218),(6.65,215),(6.72,200),(6.79,180),(6.86,130),(6.93,90),(7.0,70),(7.06,42),(7.13,-10),
          (7.2,-60),(7.25,0),(7.29,47),(7.37,110),(7.45,165),(7.5,140),(7.56,112),(7.63,70),(7.7,37),(7.77,100),(7.84,150),
          (7.88,130),(7.93,100),(7.98,70),(8.02,37),(8.1,10),(8.2,-17),(8.25,10),(8.29,37),(8.38,10),(8.47,-17),(8.58,0),
          (8.7,15),(8.77,-15),(8.84,-50),(8.95,-30),(9.06,-12),(9.15,-40),(9.25,-65),(9.34,-70),(9.43,-76),(9.5,-20),(9.56,26),
          (9.63,5),(9.7,-12),(9.77,20),(9.84,53),(9.9,20),(9.97,-12),(10.06,-20),(10.15,-28),(10.26,-5),(10.38,15),(10.47,20),
          (10.56,10),(10.65,4),(10.76,20),(10.88,37),(11.0,10),(11.11,-12),(11.2,0),(11.29,10),(11.42,5),(11.56,0),(11.65,20),
          (11.74,37),(11.84,25),(11.93,15),(12.0,0),(12.06,-22),(12.13,40),(12.2,95),(12.25,50),(12.29,4),(12.36,60),(12.43,122),
          (12.48,90),(12.52,69),(12.58,35),(12.65,4),(12.72,-30),(12.79,-65),(12.86,-90),(12.93,-114),(13.0,-80),(13.06,-50),
          (13.13,50),(13.2,144),(13.29,135),(13.38,128),(13.47,110),(13.56,90),(13.65,88),(13.74,85),(13.8,40),(13.85,-6),
          (13.91,-70),(13.97,-135),(14.04,-145),(14.11,-157),(14.17,-110),(14.24,-70),(14.33,-75),(14.43,-82),(14.52,-76),
          (14.61,-70),(14.66,-90),(14.7,-108),(14.77,-50),(14.84,4),(14.95,25),(15.06,47),(15.13,35),(15.2,26),(15.28,15),
          (15.36,10),(15.42,-10),(15.48,-28),(15.55,-50),(15.61,-70),(15.7,-55),(15.78,-40),(15.85,-65),(15.91,-92),(15.98,-60),
          (16.04,-33),(16.12,-45),(16.2,-55),(16.29,-55),(16.37,-55),(16.46,-58),(16.54,-60),(16.61,-75),(16.67,-92),(16.7,-180),
          (16.73,-248),(16.78,-200),(16.84,-146),(16.9,-140),(16.97,-135),(17.05,-103),(17.12,-135),(17.18,-168),(17.27,-170),
          (17.35,-173),(17.42,-160),(17.48,-146),(17.54,-130),(17.6,-119),(17.7,-105),(17.82,-92),(17.9,-108),(17.99,-125),
          (18.08,-128),(18.16,-130),(18.28,-145),(18.41,-157),(18.5,-180),(18.58,-200),(18.65,-210),(18.71,-221),(18.77,-232),
          (18.83,-243),(18.92,-225),(19.0,-205),(19.08,-190),(19.17,-178),(19.26,-160),(19.34,-146),(19.42,-125),(19.51,-103),
          (19.6,-85),(19.68,-65),(19.77,-62),(19.85,-60),(19.94,-75),(20.02,-92),(20.1,-120),(20.19,-151),(20.32,-135),
          (20.45,-119),(20.58,-130),(20.7,-141),(20.79,-128),(20.87,-114),(20.95,-80),(21.04,-50),(21.12,-60),(21.21,-70),
          (21.3,-85),(21.38,-98),(21.46,-80),(21.55,-60),(21.62,-40),(21.68,-17),(21.74,-15),(21.8,-12),(21.9,-12),(22.01,-12),
          (22.08,0),(22.14,15),(22.25,20),(22.35,26),(22.46,40),(22.57,58),(22.74,65),(22.91,74),(23.0,60),(23.12,42),(23.2,80),
          (23.29,122),(23.4,118),(23.5,112),(23.58,85),(23.65,95),(23.71,106),(23.78,85),(23.84,63),(23.92,55),(24.0,47)]

VM12_N = [(4.0,-6),(4.1,-12),(4.2,-17),(4.33,-20),(4.47,-22),(4.56,-17),(4.65,-12),(4.75,-28),(4.79,60),(4.82,171),
          (4.86,90),(4.93,15),(5.02,10),(5.11,12),(5.2,15),(5.29,0),(5.38,-12),(5.47,-5),(5.56,4),(5.63,-25),(5.7,-55),
          (5.77,-35),(5.84,-12),(5.9,-45),(5.97,-82),(6.02,-50),(6.06,-17),(6.1,-50),(6.15,-82),(6.22,-110),(6.29,-135),
          (6.36,-70),(6.43,-1),(6.5,-40),(6.56,-82),(6.65,-100),(6.75,-114),(6.84,-200),(6.93,-286),(7.0,-250),(7.06,-211),
          (7.13,-195),(7.2,-178),(7.25,-140),(7.29,-103),(7.36,-125),(7.43,-146),(7.5,-160),(7.56,-178),(7.6,-190),(7.65,-200),
          (7.72,-150),(7.79,-92),(7.86,-40),(7.93,15),(7.98,-20),(8.02,-50),(8.11,-80),(8.2,-114),(8.29,-80),(8.38,-50),
          (8.47,-80),(8.56,-114),(8.65,-125),(8.75,-135),(8.84,-90),(8.93,-39),(9.02,-45),(9.11,-50),(9.2,-65),(9.29,-82),
          (9.38,-88),(9.47,-92),(9.54,-130),(9.61,-168),(9.68,-155),(9.75,-146),(9.83,-190),(9.91,-238),(10.01,-175),
          (10.11,-114),(10.2,-125),(10.29,-135),(10.38,-95),(10.47,-60),(10.56,-85),(10.65,-114),(10.75,-175),(10.84,-238),
          (10.93,-220),(11.02,-200),(11.11,-155),(11.2,-114),(11.29,-125),(11.38,-135),(11.5,-30),(11.61,74),(11.68,55),
          (11.74,37),(11.81,-5),(11.88,-50),(11.95,-95),(12.02,-135),(12.07,-60),(12.11,4),(12.18,0),(12.25,-6),(12.31,-40),
          (12.38,-70),(12.45,-15),(12.52,37),(12.61,25),(12.7,15),(12.77,-20),(12.84,-50),(12.9,-5),(12.97,37),(13.06,15),
          (13.15,-6),(13.25,-40),(13.34,-70),(13.4,0),(13.47,69),(13.54,25),(13.61,-17),(13.72,-17),(13.84,-17),(13.9,-35),
          (13.97,-50),(14.04,40),(14.11,122),(14.15,10),(14.2,-92),(14.25,-150),(14.31,-200),(14.39,-70),(14.47,58),(14.56,25),
          (14.65,-6),(14.7,-55),(14.74,-103),(14.8,-10),(14.85,37),(14.93,96),(15.0,115),(15.06,133),(15.13,150),(15.19,160),
          (15.23,90),(15.27,40),(15.31,-17),(15.36,-200),(15.4,-383),(15.44,-310),(15.48,-243),(15.53,-190),(15.57,-135),
          (15.61,-220),(15.65,-307),(15.7,-380),(15.74,-458),(15.78,-370),(15.82,-297),(15.86,-350),(15.91,-415),(15.97,-360),
          (16.04,-307),(16.08,-220),(16.12,-135),(16.2,-160),(16.29,-184),(16.35,-130),(16.42,-82),(16.5,-87),(16.59,-92),
          (16.65,-120),(16.71,-146),(16.78,-140),(16.84,-135),(16.9,-90),(16.97,-44),(17.03,-120),(17.1,-189),(17.16,-115),
          (17.22,-44),(17.29,-110),(17.35,-178),(17.39,-238),(17.45,-160),(17.52,-82),(17.56,-125),(17.6,-168),(17.66,-190),
          (17.71,-205),(17.78,-195),(17.86,-184),(17.92,-55),(17.96,-80),(17.99,-103),(18.08,-95),(18.16,-87),(18.25,-100),
          (18.33,-114),(18.4,-130),(18.45,-146),(18.53,-75),(18.62,-6),(18.68,-17),(18.75,-28),(18.84,-28),(18.92,-28),
          (18.98,-65),(19.05,-103),(19.13,-115),(19.22,-125),(19.28,-80),(19.34,-39),(19.43,-10),(19.51,20),(19.6,-10),
          (19.68,-39),(19.77,-55),(19.85,-70),(19.94,-100),(20.02,-135),(20.1,-175),(20.19,-211),(20.28,-208),(20.36,-205),
          (20.43,-220),(20.49,-238),(20.55,-220),(20.62,-200),(20.68,-190),(20.74,-178),(20.8,-210),(20.87,-243),(20.93,-205),
          (21.0,-168),(21.06,-180),(21.12,-195),(21.2,-200),(21.29,-205),(21.35,-180),(21.42,-157),(21.5,-125),(21.59,-92),
          (21.68,-60),(21.76,-28),(21.84,10),(21.93,47),(22.0,30),(22.06,15),(22.1,-20),(22.14,-60),(22.2,-30),(22.27,4),
          (22.33,40),(22.4,80),(22.46,72),(22.52,63),(22.58,20),(22.65,-28),(22.72,-50),(22.78,-70),(22.82,-105),(22.86,-141),
          (22.97,-115),(23.08,-92),(23.14,-120),(23.2,-146),(23.27,-190),(23.33,-232),(23.4,-265),(23.46,-297),(23.52,-280),
          (23.58,-259),(23.63,-240),(23.67,-227),(23.74,-235),(23.8,-243),(23.84,-255),(23.88,-270),(23.94,-272),(24.0,-275)]

GRID_HOURS = [6, 8, 10, 12, 14, 16, 18, 20, 22]
TICK_HOURS = [5, 6, 7, 8, 9, 10, 11, 12, 13, 14, 15, 16, 17, 18, 19, 20, 21, 22, 23]
X_LABELS = [4, 8, 12, 16, 20, 24]
AE_EVENTS = [("#1", 8.2, 1330), ("#2", 14.33, 875), ("#3", 16.82, 1995), ("#4", 18.83, 1995),
             ("#5", 20.82, 1995), ("#6", 23.34, 1995)]

CAPTION_BOLD = "Fig. 2"
CAPTION_1 = ("The space weather parameters during the storm main phase 04\u201324 UT, March 17, 2015: "
             "the solar wind density Np and electric field Ey, SYM-H")
CAPTION_2 = ("index, PCN/PCS indices, and AE index. Two bottom panels show the midnight (MLT\u2009=\u20090) "
             "and noon (MLT\u2009=\u200912) virtual magnetograms (X-component)")
CAPTION_3 = ("of geomagnetic response for the Northern (blue line) and Southern (red line) hemispheres. "
             "Substorm activations are marked by numbers (1\u20136)")

LABEL_SIZE = 24


def to_df(pairs):
    rows, seg = [], 0
    for p in pairs:
        if p is None:
            seg += 1
            continue
        rows.append({"h": p[0], "v": p[1], "seg": seg})
    return pd.DataFrame(rows)


ONE = pd.DataFrame({"k": [0]})


def txt(s, x, y, size, color, align="left", weight="normal", font=FONT):
    return alt.Chart(pd.DataFrame({"t": [s]})).mark_text(
        align=align, baseline="middle", fontSize=size, font=font, color=color,
        fontWeight=weight).encode(text="t:N", x=alt.value(x), y=alt.value(y))


def dash(x1, x2, y, color):
    return alt.Chart(ONE).mark_rule(color=color, strokeWidth=1.5).encode(
        x=alt.value(x1), x2=alt.value(x2), y=alt.value(y))


def panel(series, domain, major, minor, height, title=None, zero=False, xaxis=False, events=None, extras=()):
    ysc = alt.Scale(domain=domain, nice=False, zero=False)
    xsc = alt.Scale(domain=[4, 24], nice=False, zero=False)
    yax = alt.Axis(values=major, title=title, labelFont=FONT, labelFontSize=LABEL_SIZE, titleFont=FONT,
                   titleFontSize=26, titleFontWeight="normal", labelColor="black", titleColor="black",
                   ticks=False, tickSize=0, domain=False, grid=False, labelPadding=8, titlePadding=14,
                   labelOverlap=False, labelFlush=False, labelExpr="'' + datum.value")
    if xaxis:
        xax = alt.Axis(values=X_LABELS, title="UT", labelFont=FONT, labelFontSize=22, titleFont=FONT,
                       titleFontSize=22, titleFontWeight="normal", labelColor="black", titleColor="black",
                       ticks=False, tickSize=0, domain=False, grid=False, labelPadding=9, titlePadding=4,
                       labelOverlap=False, labelFlush=False,
                       labelExpr="datum.value == 24 ? '00' : (datum.value < 10 ? '0' + datum.value : '' + datum.value)")
    else:
        xax = None

    def Y():
        return alt.Y("v:Q", scale=ysc, axis=yax)

    def X():
        return alt.X("h:Q", scale=xsc, axis=xax)

    layers = []
    layers.append(alt.Chart(pd.DataFrame({"h": GRID_HOURS})).mark_rule(
        color="black", strokeDash=[2, 3], strokeWidth=1).encode(x=X()))
    if zero:
        layers.append(alt.Chart(pd.DataFrame({"v": [0]})).mark_rule(
            color="black", strokeDash=[2, 3], strokeWidth=1).encode(y=Y()))
    for pairs, color, sw in series:
        layers.append(alt.Chart(to_df(pairs)).mark_line(color=color, strokeWidth=sw, clip=True).encode(
            x=X(), y=Y(), detail="seg:N"))
    if events is not None:
        layers.append(alt.Chart(events).mark_text(font=FONT, fontSize=25, color="black", align="center",
                                                  baseline="middle").encode(x=X(), y=Y(), text="t:N"))
    layers.append(alt.Chart(pd.DataFrame({"v": major})).mark_rule(color="black").encode(
        y=Y(), x=alt.value(0), x2=alt.value(15)))
    layers.append(alt.Chart(pd.DataFrame({"v": minor})).mark_rule(color="black").encode(
        y=Y(), x=alt.value(0), x2=alt.value(8)))
    layers.append(alt.Chart(pd.DataFrame({"v": list(major) + list(minor)})).mark_rule(color="black").encode(
        y=Y(), x=alt.value(W), x2=alt.value(W - 15)))
    hdf = pd.DataFrame({"h": TICK_HOURS})
    layers.append(alt.Chart(hdf).mark_rule(color="black").encode(
        x=X(), y=alt.value(0), y2=alt.value(8)))
    layers.append(alt.Chart(hdf).mark_rule(color="black").encode(
        x=X(), y=alt.value(height), y2=alt.value(height - 8)))
    layers.extend(extras)
    return alt.layer(*layers).properties(width=W, height=height)


def spacer(label):
    return alt.layer(txt(label, 0, 47, 26, "black")).properties(
        width=W, height=70, view=alt.ViewBackground(stroke="transparent"))


border = alt.Chart(ONE).mark_rect(fillOpacity=0, stroke="#8a8a8a", strokeWidth=1.5, cornerRadius=12).encode(
    x=alt.value(-240), x2=alt.value(1043), y=alt.value(-63), y2=alt.value(1409))

p_np = panel([(NP, "#ee0000", 1.2)], [3, 60.5], [10, 20, 30, 40, 50, 60], [5, 15, 25, 35, 45, 55], 140,
             title="#/cm3",
             extras=[border, txt("2015\\03\\17", 391, -31, 35, "black", align="center"),
                     txt("Np", 836, 33, 27, "#ff0000")])
p_ey = panel([(EY, "#990000", 1.2)], [-13, 16.2], [-10, -5, 0, 5, 10, 15], [-12.5, -7.5, -2.5, 2.5, 7.5, 12.5], 140,
             title="mV/m", zero=True, extras=[txt("Ey", 836, 34, 27, "#a00000")])
p_sym = panel([(SYMH, "black", 1.2)], [-234, 71], [-200, -150, -100, -50, 0, 50],
              [-225, -175, -125, -75, -25, 25], 141, title="nT", zero=True,
              extras=[txt("SYM_H", 836, 33, 27, "black")])
p_pc = panel([(PCS, "#ff0000", 2), (PCN, "#0000ff", 2)], [-3.5, 15.7], [0, 5, 10, 15], [-2.5, 2.5, 7.5, 12.5], 140,
             extras=[dash(803, 818, 16, "#ff0000"), dash(803, 818, 30, "#0000ff"),
                     txt("PCS", 828, 15, 24, "#ff0000"), txt("PCN", 828, 37, 24, "#0000ff")])
ae_ev = pd.DataFrame({"t": [e[0] for e in AE_EVENTS], "h": [e[1] for e in AE_EVENTS], "v": [e[2] for e in AE_EVENTS]})
p_ae = panel([(AE, "#a39b00", 1.2)], [29, 2303], [500, 1000, 1500, 2000], [250, 750, 1250, 1750, 2250], 140,
             title="nT", events=ae_ev, extras=[txt("AE", 836, 33, 27, "#b0a600")])
p_vm00 = panel([(VM00_S, "#ff0000", 1.2), (VM00_N, "#0000dd", 1.2)], [-1138, 269],
               [-1000, -800, -600, -400, -200, 0, 200], [-1100, -900, -700, -500, -300, -100, 100], 211,
               title="nT", zero=True,
               extras=[dash(803, 818, 26, "#ff0000"), dash(803, 818, 46, "#0000dd"),
                       txt("X_S", 828, 24, 24, "#ff0000"), txt("X_N", 828, 46, 24, "#0000dd")])
p_vm12 = panel([(VM12_S, "#ff0000", 1.2), (VM12_N, "#0000dd", 1.2)], [-458, 220],
               [-400, -300, -200, -100, 0, 100, 200], [-450, -350, -250, -150, -50, 50, 150], 210,
               title="nT", zero=True, xaxis=True,
               extras=[dash(803, 818, 25, "#ff0000"), dash(803, 818, 46, "#0000dd"),
                       txt("X_S", 828, 23, 24, "#ff0000"), txt("X_N", 828, 45, 24, "#0000dd"),
                       txt(CAPTION_BOLD, -225, 285, 18.2, "#231f20", weight="bold", font=CAP_FONT),
                       txt(CAPTION_1, -164, 285, 18.2, "#231f20", font=CAP_FONT),
                       txt(CAPTION_2, -225, 312, 18.2, "#231f20", font=CAP_FONT),
                       txt(CAPTION_3, -225, 338, 18.2, "#231f20", font=CAP_FONT)])

chart = alt.vconcat(p_np, p_ey, p_sym, p_pc, p_ae, spacer("VM 00MLT"), p_vm00, spacer("VM 12MLT"), p_vm12,
                    spacing=0, bounds="flush").properties(
    padding={"left": 7, "top": 8, "right": 1, "bottom": 2}, background="white"
).configure_view(stroke="black", strokeWidth=1.3).configure(font=FONT)

chart.save("out.html", embed_options={"renderer": "svg", "actions": False})
